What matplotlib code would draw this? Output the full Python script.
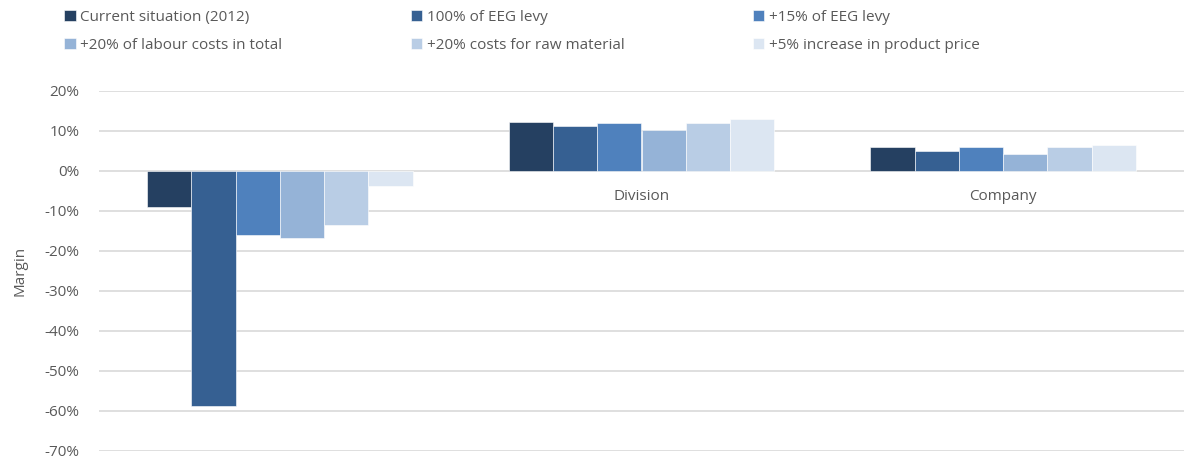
import matplotlib.pyplot as plt
import numpy as np

plt.rcParams['font.family'] = ['Open Sans', 'DejaVu Sans']

categories = ["", "Division", "Company"]
series_names = [
    "Current situation (2012)",
    "100% of EEG levy",
    "+15% of EEG levy",
    "+20% of labour costs in total",
    "+20% costs for raw material",
    "+5% increase in product price",
]
# margin in percent, one list per scenario (values for the 3 categories)
current_2012 = [-8.9, 12.2, 6.1]
eeg_full = [-58.7, 11.2, 5.1]
eeg_15 = [-15.9, 12.0, 6.1]
labour_20 = [-16.7, 10.2, 4.3]
raw_material_20 = [-13.6, 12.1, 6.1]
price_5 = [-3.7, 12.9, 6.5]
series_values = [current_2012, eeg_full, eeg_15, labour_20, raw_material_20, price_5]

colors = ["#254061", "#366092", "#4F81BD", "#95B3D7", "#B9CDE5", "#DCE6F2"]
text_color = "#595959"

fig = plt.figure(figsize=(11.85, 4.63), dpi=100)
ax = fig.add_axes([99 / 1185, 1 - 451 / 463, 1085 / 1185, 360 / 463])

x = np.arange(len(categories))
w = 0.1225
handles = []
for i, (vals, c) in enumerate(zip(series_values, colors)):
    b = ax.bar(x + (i - 2.5) * w, vals, width=w, color=c, label=series_names[i],
               zorder=3, edgecolor="white", linewidth=0.4)
    handles.append(b)

ax.set_xlim(-0.5, 2.5)
ax.set_ylim(-70, 20)
ax.set_yticks(np.arange(-70, 21, 10))
ax.set_yticklabels([f"{v}%" for v in range(-70, 21, 10)])
ax.yaxis.grid(True, color="#D9D9D9", linewidth=1.2, zorder=0)
ax.set_axisbelow(True)
ax.set_xticks([])
for s in ax.spines.values():
    s.set_visible(False)
ax.tick_params(axis="y", length=0, pad=14, labelsize=11, labelcolor=text_color)
ax.set_ylabel("Margin", fontsize=11, color=text_color, labelpad=12)

for xi, lab in zip(x, categories):
    ax.annotate(lab, (xi, 0), xytext=(0, -26), textcoords="offset pixels",
                ha="center", va="center", fontsize=11, color=text_color)

# legend is filled row by row in the reference
order = [0, 3, 1, 4, 2, 5]
leg = fig.legend([handles[k] for k in order], [series_names[k] for k in order],
                 ncol=3, loc="upper left", bbox_to_anchor=(55 / 1185, 0.998),
                 frameon=False, fontsize=11, handlelength=0.75, handleheight=0.75,
                 handletextpad=0.3, columnspacing=8.4, labelspacing=0.85,
                 borderaxespad=0.2)
for t in leg.get_texts():
    t.set_color(text_color)

fig.savefig("out.png", dpi=100)
